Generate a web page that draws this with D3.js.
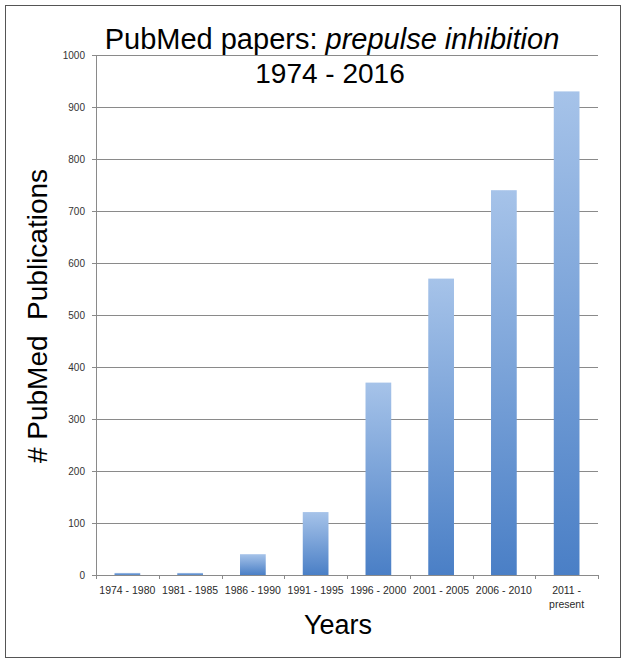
<!DOCTYPE html>
<html>
<head>
<meta charset="utf-8">
<script src="https://cdn.jsdelivr.net/npm/d3@7"></script>
<style>
  body { margin: 0; background: #fff; }
  text { font-family: "Liberation Sans", Arial, sans-serif; }
</style>
</head>
<body>
<script>
// datos
var periodos = ["1974 - 1980", "1981 - 1985", "1986 - 1990", "1991 - 1995",
                "1996 - 2000", "2001 - 2005", "2006 - 2010", "2011 - present"];
var etiquetas = [["1974 - 1980"], ["1981 - 1985"], ["1986 - 1990"], ["1991 - 1995"],
                 ["1996 - 2000"], ["2001 - 2005"], ["2006 - 2010"], ["2011 -", "present"]];
var publicaciones = [4, 4, 40, 121, 370, 570, 740, 930];
var ticksY = [0, 100, 200, 300, 400, 500, 600, 700, 800, 900, 1000];

var W = 626, H = 663;
var izq = 96, der = 598, arriba = 55, abajo = 575;

var svg = d3.select("body").append("svg")
  .attr("width", W)
  .attr("height", H);

// degradado de las barras (claro arriba, oscuro abajo)
var grad = svg.append("defs").append("linearGradient")
  .attr("id", "azul")
  .attr("x1", 0).attr("y1", 0).attr("x2", 0).attr("y2", 1);
grad.append("stop").attr("offset", "0%").attr("stop-color", "#a6c3e9");
grad.append("stop").attr("offset", "100%").attr("stop-color", "#4a7fc6");

// marco exterior
svg.append("rect")
  .attr("x", 5.5).attr("y", 5.5)
  .attr("width", 615).attr("height", 652)
  .attr("fill", "none")
  .attr("stroke", "#555")
  .attr("stroke-width", 1);

var x = d3.scaleBand().domain(periodos).range([izq, der])
  .paddingInner(0.59).paddingOuter(0.295);
var y = d3.scaleLinear().domain([0, 1000]).range([abajo, arriba]);

// lineas guia
svg.append("g")
  .attr("class", "grid")
  .attr("transform", "translate(" + izq + ",0)")
  .call(d3.axisLeft(y).tickValues(ticksY).tickSize(-(der - izq)).tickFormat(""))
  .call(function(g) { g.select(".domain").remove(); })
  .selectAll("line")
  .attr("stroke", "#8a8a8a");

// eje y
var ejeY = svg.append("g")
  .attr("transform", "translate(" + izq + ",0)")
  .call(d3.axisLeft(y).tickValues(ticksY).tickSize(4).tickPadding(7).tickFormat(d3.format("d")));
ejeY.select(".domain").attr("stroke", "#8a8a8a");
ejeY.selectAll("line").attr("stroke", "#8a8a8a");
ejeY.selectAll("text")
  .attr("fill", "#333")
  .style("font-size", "10px")
  .style("font-family", "Liberation Sans, Arial, sans-serif");

// barras
svg.selectAll(".bar")
  .data(publicaciones)
  .enter().append("rect")
  .attr("class", "bar")
  .attr("x", function(d, i) { return x(periodos[i]); })
  .attr("width", x.bandwidth())
  .attr("y", function(d) { return y(d); })
  .attr("height", function(d) { return y(0) - y(d); })
  .attr("fill", "url(#azul)");

// eje x: linea y marcas en los limites de cada categoria
var ejeX = svg.append("g");
ejeX.append("line")
  .attr("x1", izq).attr("x2", der)
  .attr("y1", y(0) + 0.5).attr("y2", y(0) + 0.5)
  .attr("stroke", "#8a8a8a");
ejeX.selectAll(".marca")
  .data(d3.range(periodos.length + 1))
  .enter().append("line")
  .attr("class", "marca")
  .attr("x1", function(i) { return Math.round(x.range()[0] + i * x.step()) + 0.5; })
  .attr("x2", function(i) { return Math.round(x.range()[0] + i * x.step()) + 0.5; })
  .attr("y1", y(0))
  .attr("y2", y(0) + 4)
  .attr("stroke", "#8a8a8a");

ejeX.selectAll(".etq")
  .data(periodos)
  .enter().append("text")
  .attr("class", "etq")
  .attr("text-anchor", "middle")
  .attr("fill", "#2a2a2a")
  .style("font-size", "10.5px")
  .each(function(d, i) {
    var t = d3.select(this);
    etiquetas[i].forEach(function(linea, j) {
      t.append("tspan")
        .attr("x", x(d) + x.bandwidth() / 2)
        .attr("y", 594 + j * 13.5)
        .text(linea);
    });
  });

// titulos
var titulo = svg.append("text")
  .attr("x", 332)
  .attr("y", 49)
  .attr("text-anchor", "middle")
  .style("font-size", "29px")
  .attr("fill", "#000");
titulo.append("tspan").text("PubMed papers: ");
titulo.append("tspan").style("font-style", "italic").text("prepulse inhibition");

svg.append("text")
  .attr("x", 330)
  .attr("y", 83)
  .attr("text-anchor", "middle")
  .style("font-size", "28px")
  .attr("fill", "#000")
  .text("1974 - 2016");

// etiquetas de los ejes
svg.append("text")
  .attr("transform", "translate(47,316) rotate(-90)")
  .attr("text-anchor", "middle")
  .style("font-size", "28px")
  .attr("fill", "#000")
  .style("white-space", "pre")
  .text("# PubMed\u00a0\u00a0Publications");

svg.append("text")
  .attr("x", 338)
  .attr("y", 634)
  .attr("text-anchor", "middle")
  .style("font-size", "27px")
  .attr("fill", "#000")
  .text("Years");
</script>
</body>
</html>
